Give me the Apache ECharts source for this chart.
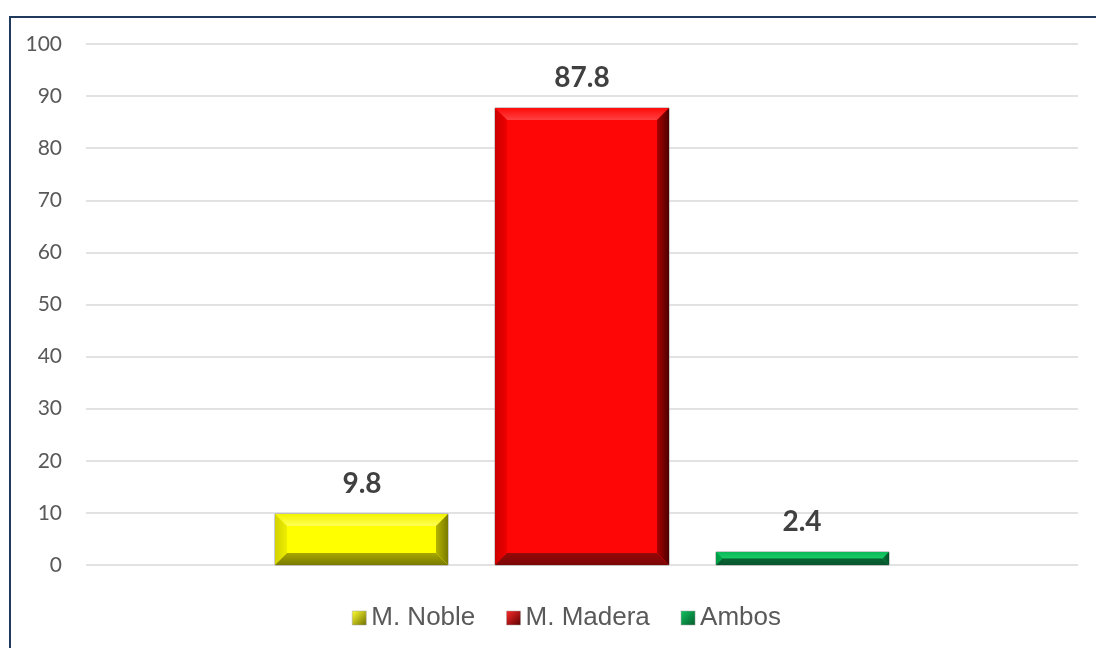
<!DOCTYPE html>
<html>
<head>
<meta charset="utf-8">
<script src="https://cdn.jsdelivr.net/npm/echarts@6/dist/echarts.min.js"></script>
<style>
  html, body { margin: 0; padding: 0; background: #ffffff; }
  #chart { width: 1096px; height: 648px; }
</style>
</head>
<body>
<div id="chart"></div>
<script>
// Material shares (%)
const seriesNames = ['M. Noble', 'M. Madera', 'Ambos'];
const seriesValues = [9.8, 87.8, 2.4];
const yTicks = [0, 10, 20, 30, 40, 50, 60, 70, 80, 90, 100];

// Bevel palettes: face, top (outer->inner), left (outer->inner), right (inner->outer), bottom (inner->outer)
const palettes = [
  { face: '#ffff00', top: ['#f4f400', '#ffff55'], left: ['#d2d200', '#eeee00'], right: ['#b4b400', '#7a7a00'], bottom: ['#a8a800', '#7a7a00'], legend: ['#ffff33', '#6e6e00'] },
  { face: '#ff0606', top: ['#ff0a0a', '#ff4040'], left: ['#cc0000', '#ee0000'], right: ['#a80000', '#4e0000'], bottom: ['#960808', '#7c0606'], legend: ['#ff2a2a', '#5a0000'] },
  { face: '#00b050', top: ['#0cb858', '#1ccc68'], left: ['#009a45', '#00a84c'], right: ['#05763a', '#04522a'], bottom: ['#0a6434', '#07552b'], legend: ['#11c460', '#055a2c'] }
];

// Horizontal placement inside the single category band
const BAR_WIDTH_FRAC = 0.1744;
const BAR_STEP_FRAC = 0.2218;

function grad(x0, y0, x1, y1, c0, c1) {
  return new echarts.graphic.LinearGradient(x0, y0, x1, y1, [
    { offset: 0, color: c0 }, { offset: 1, color: c1 }
  ]);
}

function makeRender(idx) {
  const p = palettes[idx];
  return function (params, api) {
    const v = api.value(1);
    const top = api.coord([0, v]);
    const base = api.coord([0, 0]);
    const band = api.size([1, 0])[0];
    const w = band * BAR_WIDTH_FRAC;
    const cx = top[0] + (idx - 1) * band * BAR_STEP_FRAC;
    const x0 = Math.round(cx - w / 2), x1 = Math.round(cx + w / 2);
    const y0 = Math.round(top[1]), y1 = Math.round(base[1]);
    const h = y1 - y0;
    const b = Math.min(12, h / 2);
    const poly = (pts, fill) => ({ type: 'polygon', shape: { points: pts }, style: { fill: fill } });
    return {
      type: 'group',
      children: [
        { type: 'rect', shape: { x: x0, y: y0, width: x1 - x0, height: h }, style: { fill: p.face, stroke: '#9a9a9a', lineWidth: 1 } },
        poly([[x0, y0], [x1, y0], [x1 - b, y0 + b], [x0 + b, y0 + b]], grad(0, 0, 0, 1, p.top[0], p.top[1])),
        poly([[x0, y0], [x0 + b, y0 + b], [x0 + b, y1 - b], [x0, y1]], grad(0, 0, 1, 0, p.left[0], p.left[1])),
        poly([[x1, y0], [x1 - b, y0 + b], [x1 - b, y1 - b], [x1, y1]], grad(0, 0, 1, 0, p.right[0], p.right[1])),
        poly([[x0, y1], [x1, y1], [x1 - b, y1 - b], [x0 + b, y1 - b]], grad(0, 0, 0, 1, p.bottom[0], p.bottom[1])),
        {
          type: 'text',
          style: {
            x: cx, y: y0 - 16, text: String(v),
            align: 'center', verticalAlign: 'bottom',
            fontFamily: 'Lato', fontWeight: 'bold', fontSize: 28, fill: '#404040'
          }
        }
      ]
    };
  };
}

const chart = echarts.init(document.getElementById('chart'), null, { renderer: 'canvas' });

chart.setOption({
  animation: false,
  backgroundColor: '#ffffff',
  graphic: [{
    type: 'rect', left: 9, top: 16,
    shape: { width: 1200, height: 700 },
    style: { fill: 'transparent', stroke: '#1f3a5c', lineWidth: 2 },
    silent: true, z: 100
  }],
  grid: { left: 86, right: 18, top: 44, bottom: 83, containLabel: false },
  legend: {
    bottom: 12, left: 347,
    itemWidth: 14, itemHeight: 14, itemGap: 31,
    icon: 'rect',
    textStyle: { fontFamily: 'Liberation Sans', fontSize: 26, color: '#595959' },
    data: seriesNames.map((n, i) => ({
      name: n,
      itemStyle: { color: grad(0, 0, 1, 1, palettes[i].legend[0], palettes[i].legend[1]), borderColor: '#a0a0a0', borderWidth: 0.5 }
    }))
  },
  xAxis: {
    type: 'category', data: [''],
    axisLine: { show: false }, axisTick: { show: false }, axisLabel: { show: false }
  },
  yAxis: {
    type: 'value', min: yTicks[0], max: yTicks[yTicks.length - 1], interval: 10,
    axisLine: { show: false }, axisTick: { show: false },
    axisLabel: { margin: 24, fontFamily: 'Lato', fontSize: 21, color: '#595959' },
    splitLine: { lineStyle: { color: '#d9d9d9', width: 1.5 } }
  },
  series: seriesNames.map((n, i) => ({
    name: n, type: 'custom',
    itemStyle: { color: palettes[i].face },
    renderItem: makeRender(i),
    data: [[0, seriesValues[i]]]
  }))
});
</script>
</body>
</html>
